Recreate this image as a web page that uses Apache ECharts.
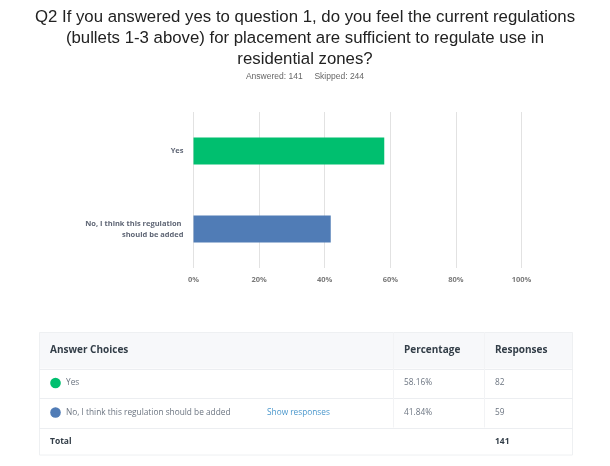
<!DOCTYPE html>
<html>
<head>
<meta charset="utf-8">
<script src="https://cdn.jsdelivr.net/npm/echarts@6/dist/echarts.min.js"></script>
<style>
html,body{margin:0;padding:0;background:#fff;}
#chart{width:610px;height:466px;}
</style>
</head>
<body>
<div id="chart"></div>
<script>
const titleText = 'Q2 If you answered yes to question 1, do you feel the current regulations\n(bullets 1-3 above) for placement are sufficient to regulate use in\nresidential zones?';
const answered = 141;
const skipped = 244;
const categories = ['Yes', 'No, I think this regulation should be added'];
const percentages = [58.16, 41.84];
const responses = [82, 59];
const colors = ['#00bf6f', '#507cb6'];
const xTicks = [0, 20, 40, 60, 80, 100];
const tableHeaders = ['Answer Choices', 'Percentage', 'Responses'];
const totalLabel = 'Total';
const showResponsesLabel = 'Show responses';

const total = responses.reduce((a, b) => a + b, 0);

const tableFont = '"Open Sans", "Noto Sans", sans-serif';
const headColor = '#333e48';
const cellColor = '#6b7480';

// table layout
const tL = 39, tR = 573;
const rows = [332, 368.5, 397.5, 427.5, 455.5];
const colX = [50, 404, 495];
const divX = [393, 484];

const g = [];
g.push({type: 'rect', shape: {x: tL, y: rows[0], width: tR - tL, height: rows[1] - rows[0]}, style: {fill: '#f7f8fa'}, silent: true});
g.push({type: 'rect', shape: {x: tL + 0.5, y: rows[0] + 0.5, width: tR - tL - 1, height: rows[4] - rows[0] - 1}, style: {fill: 'none', stroke: '#eef0f2', lineWidth: 1}, silent: true});
for (let i = 1; i < 4; i++) {
  g.push({type: 'line', shape: {x1: tL, y1: Math.round(rows[i]) + 0.5, x2: tR, y2: Math.round(rows[i]) + 0.5}, style: {stroke: '#eceef1', lineWidth: 1}, silent: true});
}
divX.forEach(x => {
  g.push({type: 'line', shape: {x1: x + 0.5, y1: rows[0], x2: x + 0.5, y2: rows[3]}, style: {stroke: '#f2f3f5', lineWidth: 1}, silent: true});
});
tableHeaders.forEach((h, i) => {
  g.push({type: 'text', x: colX[i], y: (rows[0] + rows[1]) / 2, style: {text: h, font: 'bold 10px ' + tableFont, fill: headColor, textVerticalAlign: 'middle'}, silent: true});
});
categories.forEach((c, i) => {
  const cy = (rows[i + 1] + rows[i + 2]) / 2;
  g.push({type: 'circle', shape: {cx: 55.5, cy: cy, r: 5.3}, style: {fill: colors[i]}, silent: true});
  g.push({type: 'text', x: 66, y: cy, style: {text: c, font: '8.3px ' + tableFont, fill: cellColor, textVerticalAlign: 'middle'}, silent: true});
  g.push({type: 'text', x: colX[1], y: cy, style: {text: percentages[i].toFixed(2) + '%', font: '8.3px ' + tableFont, fill: cellColor, textVerticalAlign: 'middle'}, silent: true});
  g.push({type: 'text', x: colX[2], y: cy, style: {text: String(responses[i]), font: '8.3px ' + tableFont, fill: cellColor, textVerticalAlign: 'middle'}, silent: true});
});
g.push({type: 'text', x: 267, y: (rows[2] + rows[3]) / 2, style: {text: showResponsesLabel, font: '8.3px ' + tableFont, fill: '#4a97cc', textVerticalAlign: 'middle'}, silent: true});
g.push({type: 'text', x: colX[0], y: (rows[3] + rows[4]) / 2, style: {text: totalLabel, font: 'bold 8.5px ' + tableFont, fill: headColor, textVerticalAlign: 'middle'}, silent: true});
g.push({type: 'text', x: colX[2], y: (rows[3] + rows[4]) / 2, style: {text: String(total), font: 'bold 8.5px ' + tableFont, fill: headColor, textVerticalAlign: 'middle'}, silent: true});
g.push({type: 'text', x: 305, y: 76.5, style: {text: 'Answered: ' + answered + '     Skipped: ' + skipped, font: '8.5px "Liberation Sans", Arial, sans-serif', fill: '#666666', textAlign: 'center', textVerticalAlign: 'middle'}, silent: true});

const chart = echarts.init(document.getElementById('chart'));
chart.setOption({
  animation: false,
  backgroundColor: '#ffffff',
  title: {
    text: titleText,
    left: 'center',
    top: 2,
    textStyle: {fontFamily: '"Liberation Sans", Arial, sans-serif', fontSize: 16.8, fontWeight: 'normal', color: '#222222', lineHeight: 21}
  },
  grid: {left: 193.5, right: 88.5, top: 112, bottom: 198, containLabel: false},
  xAxis: {
    type: 'value', min: 0, max: 100, interval: 20,
    axisLine: {show: false}, axisTick: {show: false},
    splitLine: {show: true, lineStyle: {color: '#e2e2e2', width: 1}},
    axisLabel: {formatter: '{value}%', margin: 8, fontSize: 7.5, color: '#7a7a7a', fontWeight: 'bold', fontFamily: '"Open Sans", sans-serif'}
  },
  yAxis: {
    type: 'category', data: categories, inverse: true,
    axisLine: {show: false}, axisTick: {show: false},
    axisLabel: {margin: 10, fontSize: 7.5, fontWeight: 'bold', color: '#5f6675', width: 100, overflow: 'break', lineHeight: 11, align: 'right', fontFamily: '"Open Sans", sans-serif'}
  },
  series: [{
    type: 'bar',
    data: percentages.map((v, i) => ({value: v, itemStyle: {color: colors[i]}})),
    barWidth: 27,
    silent: true
  }],
  graphic: g
});
</script>
</body>
</html>
